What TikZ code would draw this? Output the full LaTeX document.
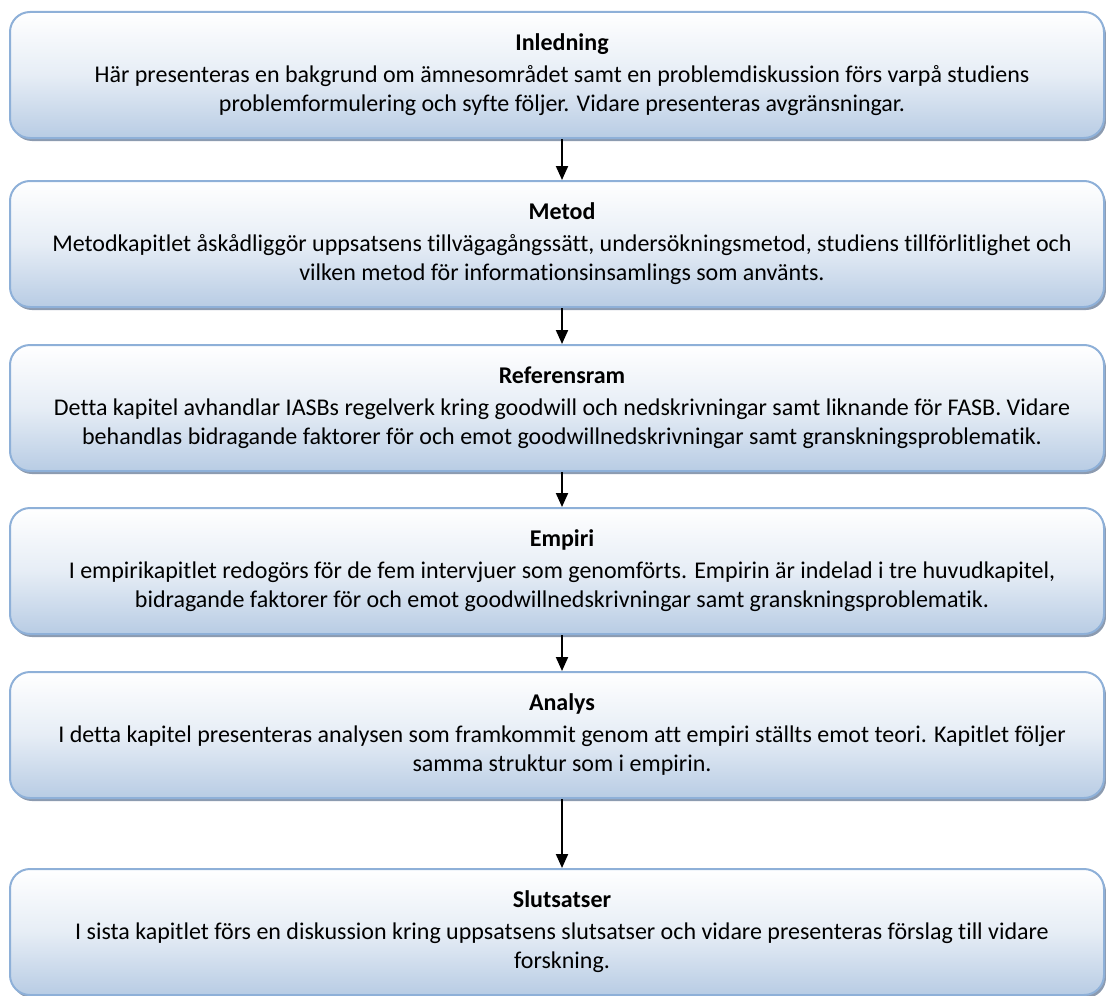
\documentclass[tikz,border=0pt]{standalone}
\usepackage{fontspec}
\setmainfont{Carlito}[Ligatures=NoCommon]
\usepackage{tikz}
\usetikzlibrary{arrows.meta,shadows}
\usepackage{xcolor}
\definecolor{chapline}{RGB}{142,176,216}
\definecolor{chapfill}{RGB}{184,204,228}
\definecolor{chapshadow}{RGB}{140,155,176}
% title, first line, second line; text sits a little right of the box centre
\newcommand{\chaptext}[3]{\begin{tabular}{@{\hspace{5pt}}c@{}}
  \textbf{#1}\\[1.5pt] #2\\ #3\end{tabular}}

\begin{document}
\begin{tikzpicture}[x=0.5pt, y=-0.5pt,
  chapter/.style={draw=chapline, line width=1pt, rounded corners=10pt,
    top color=white, bottom color=chapfill, middle color=chapfill!35!white,
    minimum width=547pt, minimum height=63pt, inner sep=0pt,
    font=\fontsize{12}{14.5}\selectfont,
    drop shadow={shadow xshift=1pt, shadow yshift=-1.5pt, fill=chapshadow, opacity=1}},
  flow/.style={line width=1pt, -{Triangle[length=7pt, width=6pt]}}]
\useasboundingbox (0,0) rectangle (1106,995);

\node[chapter] (inledning) at (557,75) {\chaptext{Inledning}
  {Här presenteras en bakgrund om ämnesområdet samt en problemdiskussion förs varpå studiens}
  {problemformulering och syfte följer. Vidare presenteras avgränsningar.}};
\node[chapter] (metod) at (557,244) {\chaptext{Metod}
  {Metodkapitlet åskådliggör uppsatsens tillvägagångssätt, undersökningsmetod, studiens tillförlitlighet och}
  {vilken metod för informationsinsamlings som använts.}};
\node[chapter] (referensram) at (557,408) {\chaptext{Referensram}
  {Detta kapitel avhandlar IASBs regelverk kring goodwill och nedskrivningar samt liknande för FASB. Vidare}
  {behandlas bidragande faktorer för och emot goodwillnedskrivningar samt granskningsproblematik.}};
\node[chapter] (empiri) at (557,571) {\chaptext{Empiri}
  {I empirikapitlet redogörs för de fem intervjuer som genomförts. Empirin är indelad i tre huvudkapitel,}
  {bidragande faktorer för och emot goodwillnedskrivningar samt granskningsproblematik.}};
\node[chapter] (analys) at (557,735) {\chaptext{Analys}
  {I detta kapitel presenteras analysen som framkommit genom att empiri ställts emot teori. Kapitlet följer}
  {samma struktur som i empirin.}};
\node[chapter] (slutsatser) at (557,932) {\chaptext{Slutsatser}
  {I sista kapitlet förs en diskussion kring uppsatsens slutsatser och vidare presenteras förslag till vidare}
  {forskning.}};

\draw[flow] ([xshift=2.5pt]inledning.south) -- ([xshift=2.5pt]metod.north);
\draw[flow] ([xshift=2.5pt]metod.south) -- ([xshift=2.5pt]referensram.north);
\draw[flow] ([xshift=2.5pt]referensram.south) -- ([xshift=2.5pt]empiri.north);
\draw[flow] ([xshift=2.5pt]empiri.south) -- ([xshift=2.5pt]analys.north);
\draw[flow] ([xshift=2.5pt]analys.south) -- ([xshift=2.5pt]slutsatser.north);
\end{tikzpicture}
\end{document}
